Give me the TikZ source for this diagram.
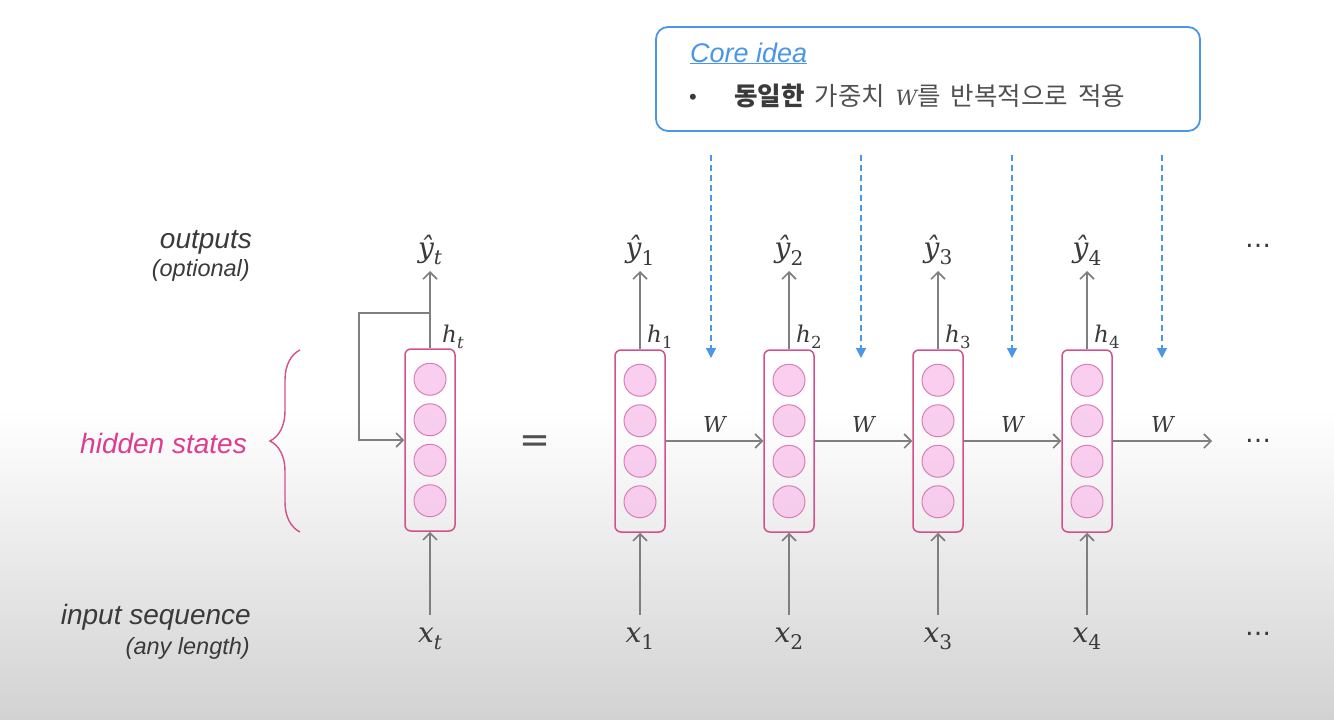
\documentclass[tikz,border=0pt]{standalone}
\usepackage{fontspec}
\setmainfont{Liberation Sans}
\newfontfamily\kr[WordSpace=1.8]{Noto Sans CJK KR}
\newfontfamily\mvar{DejaVu Serif}
\newfontfamily\dvs{DejaVu Sans}
\usetikzlibrary{arrows.meta,decorations.pathreplacing}

% variable with subscript, set in the look of a math font
\newcommand{\vsub}[2]{{\mvar\itshape #1}\raisebox{-.26em}{\scalebox{.72}{\mvar #2}}}

\definecolor{linegray}{HTML}{7F7F7F}
\definecolor{txtgray}{HTML}{3A3A3A}
\definecolor{bodygray}{HTML}{505050}
\definecolor{cellpink}{HTML}{D4508A}
\definecolor{unitfill}{HTML}{F8C6EC}
\definecolor{unitdraw}{HTML}{DA7DB4}
\definecolor{hidpink}{HTML}{DD3C91}
\definecolor{coreblue}{HTML}{4A96E8}
\definecolor{bgshade}{HTML}{D2D2D2}

\tikzset{
  cellbox/.style={draw=cellpink, line width=1.5pt, rounded corners=6pt,
    minimum width=50pt, minimum height=182pt, inner sep=0pt},
  unit/.style={circle, draw=unitdraw, fill=unitfill, fill opacity=.85,
    line width=1pt, minimum size=32pt, inner sep=0pt},
  rnn cell/.pic={
    \node[cellbox] (-box) at (0,0) {};
    \node[unit] (-u1) at (0,-60.75) {};
    \node[unit] (-u2) at (0,-20.25) {};
    \node[unit] (-u3) at (0,20.25) {};
    \node[unit] (-u4) at (0,60.75) {};
  },
  flow/.style={draw=linegray, line width=1.6pt,
    -{Straight Barb[length=7pt,width=14pt]}},
  wflow/.style={draw=coreblue, line width=1.4pt, dash pattern=on 6pt off 4pt,
    -{Triangle[length=10pt,width=10pt]}},
  ylbl/.style={text=txtgray, inner sep=1pt, outer sep=5pt, anchor=south,
    font=\fontsize{28}{30}\selectfont},
  xlbl/.style={text=txtgray, inner sep=1pt, outer sep=12pt, anchor=north,
    font=\fontsize{28}{30}\selectfont},
  hlbl/.style={text=txtgray, inner sep=1pt, anchor=south west,
    font=\fontsize{23}{26}\selectfont},
  wlbl/.style={text=txtgray, inner sep=2pt, above=6pt,
    font=\fontsize{22}{26}\selectfont\mvar\itshape},
  sidelbl/.style={text=txtgray, inner sep=0pt, anchor=east,
    font=\fontsize{28}{30}\selectfont\itshape},
  sublbl/.style={sidelbl, font=\fontsize{23.5}{24}\selectfont\itshape},
  contdots/.style={text=txtgray, inner sep=0pt, font=\fontsize{26}{30}\selectfont\dvs},
}

\begin{document}
\begin{tikzpicture}[x=1pt, y=-1pt]
  \useasboundingbox (0,0) rectangle (1334,720);
  \fill[white] (0,0) rectangle (1334,720);
  \shade[top color=white, bottom color=bgshade] (0,410) rectangle (1334,720);

  % side labels
  \node[sidelbl] (out) at (252,242) {outputs};
  \node[sublbl] (opt) at (250,270) {(optional)};
  \node[sidelbl, text=hidpink] (hid) at (247,443) {hidden states};
  \node[sidelbl] (inp) at (251,617) {input sequence};
  \node[sublbl] (len) at (250,648) {(any length)};
  \draw[cellpink, line width=1.4pt, decorate, decoration={brace, amplitude=30pt}]
    (300,532) -- (300,350);

  % folded cell
  \pic (c0) at (430,440) {rnn cell};
  \node[ylbl] (yt) at (430,271) {\vsub{ŷ}{\itshape t}};
  \node[xlbl] (xt) at (430,615) {\vsub{x}{\itshape t}};
  \node[hlbl] (ht) at (441,350) {\vsub{h}{\itshape t}};
  \draw[flow] (c0-box) -- (yt);
  \draw[flow] (xt) -- (c0-box);
  \coordinate (tap) at (430,313);
  \coordinate (turn) at (359,313);
  \draw[flow] (tap) -- (turn) |- (c0-box.west);

  \node[text=bodygray, font=\fontsize{37}{40}\selectfont\dvs] (eq) at (535,444) {=};

  % unrolled cells
  \pic (c1) at (640,441) {rnn cell};
  \pic (c2) at (789,441) {rnn cell};
  \pic (c3) at (938,441) {rnn cell};
  \pic (c4) at (1087,441) {rnn cell};

  \node[ylbl] (y1) at (640,271) {\vsub{ŷ}{1}};
  \node[ylbl] (y2) at (789,271) {\vsub{ŷ}{2}};
  \node[ylbl] (y3) at (938,271) {\vsub{ŷ}{3}};
  \node[ylbl] (y4) at (1087,271) {\vsub{ŷ}{4}};
  \node[xlbl] (x1) at (640,615) {\vsub{x}{1}};
  \node[xlbl] (x2) at (789,615) {\vsub{x}{2}};
  \node[xlbl] (x3) at (938,615) {\vsub{x}{3}};
  \node[xlbl] (x4) at (1087,615) {\vsub{x}{4}};
  \node[hlbl] (h1) at (646,350) {\vsub{h}{1}};
  \node[hlbl] (h2) at (795,350) {\vsub{h}{2}};
  \node[hlbl] (h3) at (944,350) {\vsub{h}{3}};
  \node[hlbl] (h4) at (1093,350) {\vsub{h}{4}};

  \draw[flow] (c1-box) -- (y1);
  \draw[flow] (c2-box) -- (y2);
  \draw[flow] (c3-box) -- (y3);
  \draw[flow] (c4-box) -- (y4);
  \draw[flow] (x1) -- (c1-box);
  \draw[flow] (x2) -- (c2-box);
  \draw[flow] (x3) -- (c3-box);
  \draw[flow] (x4) -- (c4-box);

  \coordinate (wend) at (1212,441);
  \draw[flow] (c1-box) -- node[wlbl] {W} (c2-box);
  \draw[flow] (c2-box) -- node[wlbl] {W} (c3-box);
  \draw[flow] (c3-box) -- node[wlbl] {W} (c4-box);
  \draw[flow] (c4-box) -- node[wlbl] {W} (wend);

  \node[contdots] (dy) at (1258,246) {…};
  \node[contdots] (dw) at (1258,441) {…};
  \node[contdots] (dx) at (1258,634) {…};

  % core idea box
  \node[draw=coreblue, line width=1.8pt, rounded corners=12pt, fill=white,
    minimum width=544pt, minimum height=104pt] (core) at (928,79) {};
  \node[anchor=base west, inner sep=0pt, text=coreblue,
    font=\fontsize{27}{30}\selectfont\itshape] (title) at (690,62) {\underline{Core idea}};
  \node[anchor=base, inner sep=0pt, text=txtgray,
    font=\fontsize{22}{24}\selectfont] (bul) at (693,104) {•};
  \node[anchor=base west, inner sep=0pt, text=bodygray,
    font=\fontsize{25.5}{28}\selectfont\kr] (idea) at (734,105)
    {{\bfseries\color{txtgray}동일한} 가중치 {\mvar\itshape\fontsize{21}{28}\selectfont W}를 반복적으로 적용};

  \coordinate (d1s) at (711,155); \coordinate (d1e) at (711,358);
  \coordinate (d2s) at (861,155); \coordinate (d2e) at (861,358);
  \coordinate (d3s) at (1012,155); \coordinate (d3e) at (1012,358);
  \coordinate (d4s) at (1162,155); \coordinate (d4e) at (1162,358);
  \draw[wflow] (d1s) -- (d1e);
  \draw[wflow] (d2s) -- (d2e);
  \draw[wflow] (d3s) -- (d3e);
  \draw[wflow] (d4s) -- (d4e);
\end{tikzpicture}
\end{document}
